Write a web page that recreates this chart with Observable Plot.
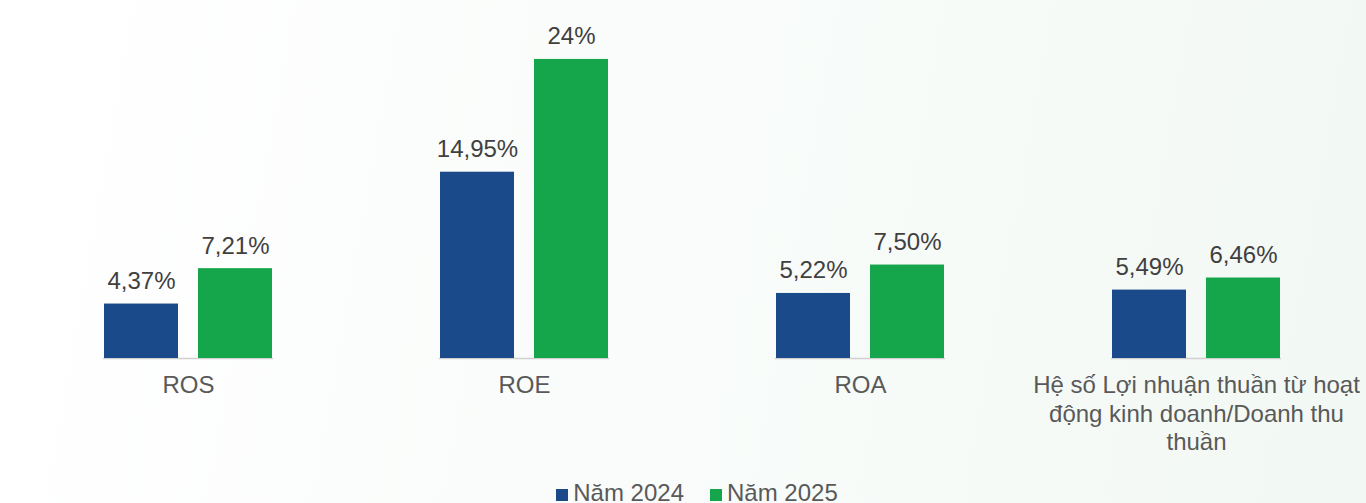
<!DOCTYPE html>
<html>
<head>
<meta charset="utf-8">
<script src="https://cdn.jsdelivr.net/npm/d3@7"></script>
<script src="https://cdn.jsdelivr.net/npm/@observablehq/plot@0.6"></script>
<style>
  html, body { margin: 0; padding: 0; }
  body {
    width: 1366px; height: 503px; overflow: hidden;
    background: linear-gradient(100deg, #ffffff 0%, #f9fcfa 50%, #f2f8f4 100%);
    font-family: "Liberation Sans", Arial, sans-serif;
  }
  #chart svg { display: block; background: transparent; }
  #legend {
    display: flex; justify-content: center; gap: 26px;
    font-size: 24px; color: #595959; line-height: 28px;
    margin-top: 1px; padding-left: 28px;
  }
  #legend .item { display: flex; align-items: center; }
  #legend .sw { width: 12px; height: 12px; margin-right: 5px; margin-top: 3px; }
</style>
</head>
<body>
<div id="chart"></div>
<div id="legend"></div>
<script>
const categories = ["ROS", "ROE", "ROA", "Hệ số Lợi nhuận thuần từ hoạt động kinh doanh/Doanh thu thuần"];
const tickLabels = ["ROS", "ROE", "ROA", "Hệ số Lợi nhuận thuần từ hoạt\nđộng kinh doanh/Doanh thu\nthuần"];
const series = ["Năm 2024", "Năm 2025"];
const values2024 = [4.37, 14.95, 5.22, 5.49];
const values2025 = [7.21, 24, 7.50, 6.46];
const colors = ["#1b4a8b", "#15a64b"];

const fmt = v => (Number.isInteger(v) ? String(v) : v.toFixed(2).replace(".", ",")) + "%";

const data = [];
categories.forEach((c, i) => {
  data.push({cat: c, series: series[0], value: values2024[i]});
  data.push({cat: c, series: series[1], value: values2025[i]});
});

const chart = Plot.plot({
  width: 1366,
  height: 478,
  marginLeft: 19,
  marginRight: 0,
  marginTop: 0,
  marginBottom: 120,
  style: {fontFamily: "Liberation Sans, Arial, sans-serif", background: "transparent"},
  fx: {domain: categories, paddingInner: 0.4926, paddingOuter: 0.2463, label: null},
  x: {domain: series, paddingInner: 0.21, paddingOuter: 0, axis: null},
  y: {domain: [0, 28.73], axis: null},
  color: {domain: series, range: colors},
  marks: [
    Plot.ruleY([0], {stroke: "#d0d0d0", strokeWidth: 1.5, facetAnchor: null}),
    Plot.barY(data, {fx: "cat", x: "series", y: "value", fill: "series"}),
    Plot.text(data, {fx: "cat", x: "series", y: "value", text: d => fmt(d.value),
      lineAnchor: "bottom", dy: -15, fontSize: 24, fill: "#404040"}),
    Plot.axisFx({anchor: "bottom", tickSize: 0, tickPadding: 15, fontSize: 24,
      lineHeight: 1.17, fill: "#595959", label: null,
      tickFormat: c => tickLabels[categories.indexOf(c)]})
  ]
});
document.getElementById("chart").append(chart);

const legend = document.getElementById("legend");
series.forEach((s, i) => {
  const item = document.createElement("div");
  item.className = "item";
  const sw = document.createElement("span");
  sw.className = "sw";
  sw.style.background = colors[i];
  const t = document.createElement("span");
  t.textContent = s;
  item.append(sw, t);
  legend.append(item);
});
</script>
</body>
</html>
